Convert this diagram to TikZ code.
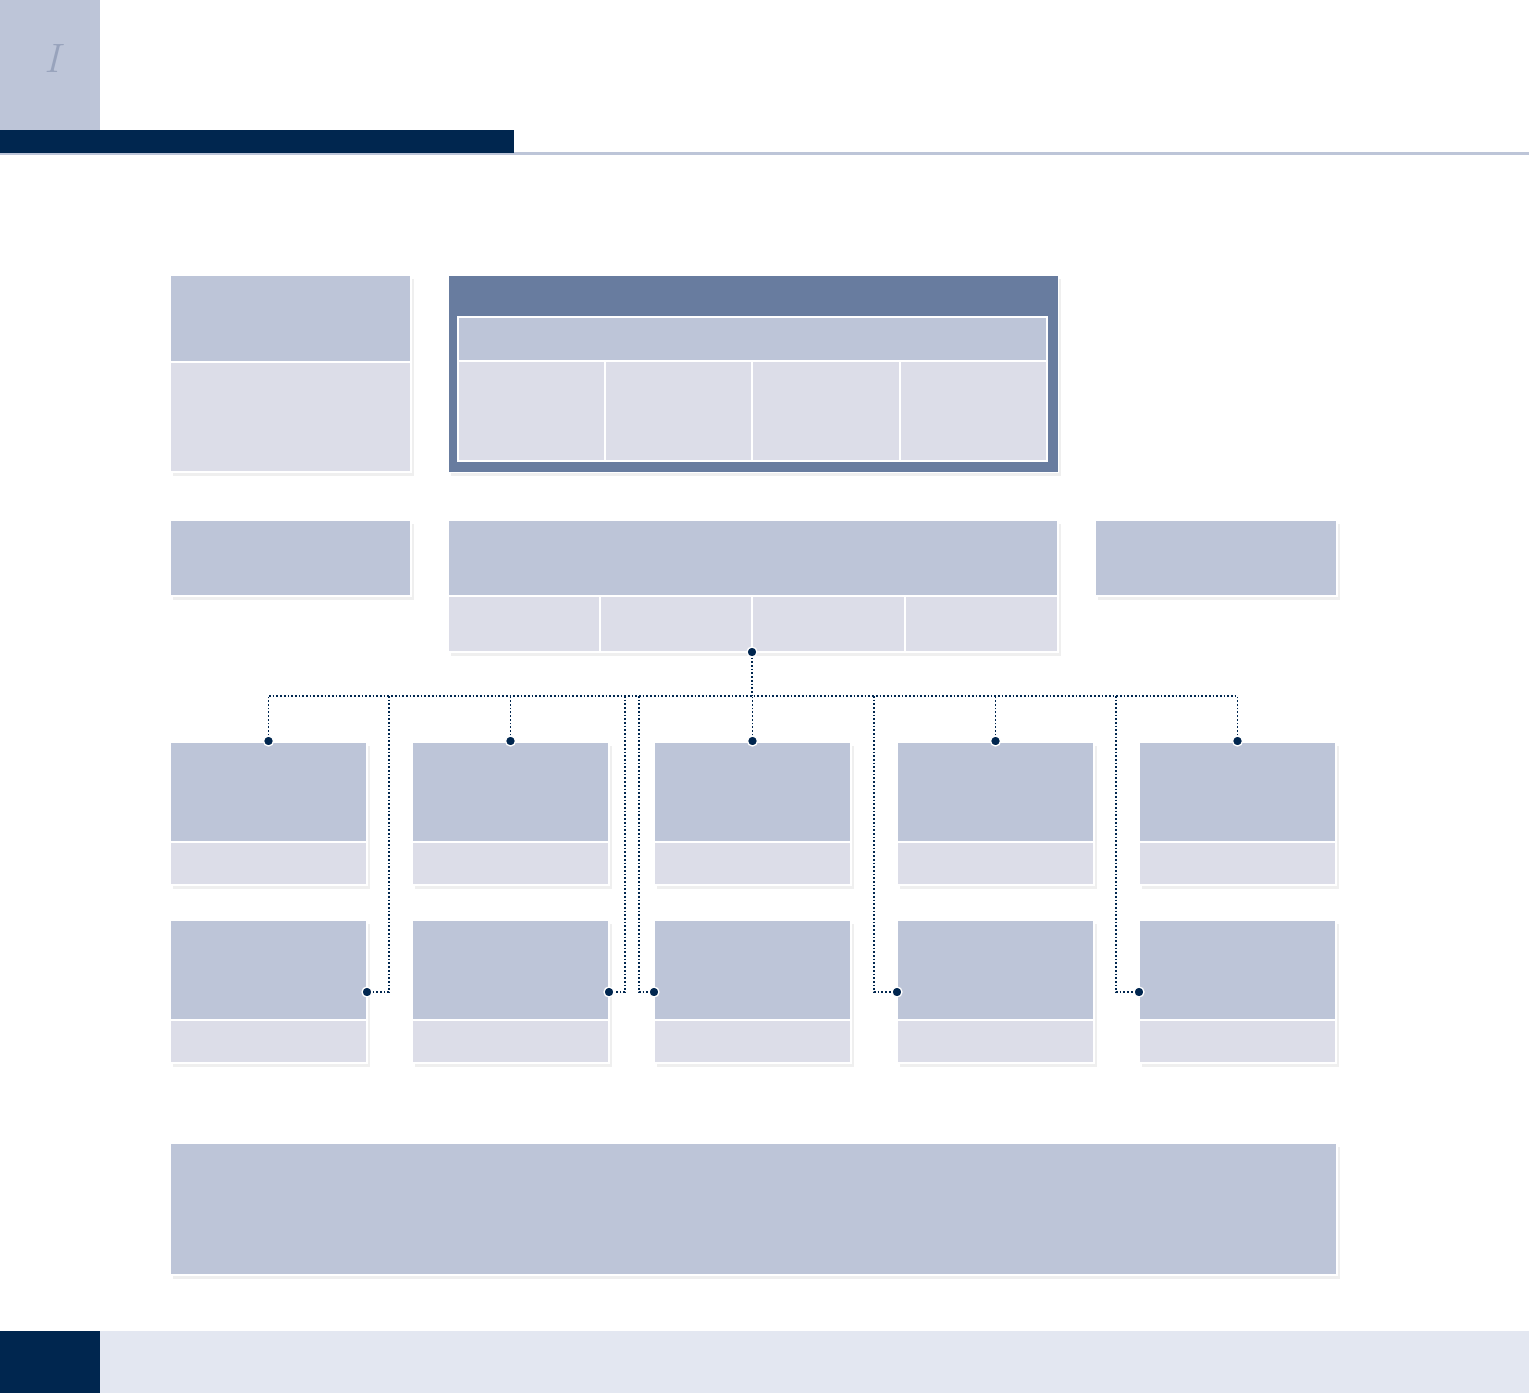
\documentclass[tikz,border=0pt]{standalone}
\usepackage{tikz}
\usetikzlibrary{shadows}
\definecolor{navy}{HTML}{00264F}
\definecolor{hdrgrey}{HTML}{BDC5D8}
\definecolor{cellgrey}{HTML}{DCDDE8}
\definecolor{deepgrey}{HTML}{687C9F}
\definecolor{bandgrey}{HTML}{E3E7F1}
\definecolor{numgrey}{HTML}{98A3BC}

\tikzset{
  box/.style={draw=white, line width=1.5pt, inner sep=0pt, outer sep=0pt, anchor=north west},
  hdr/.style={box, fill=hdrgrey},
  cell/.style={box, fill=cellgrey},
  shade/.style={drop shadow={shadow xshift=3pt, shadow yshift=-4pt, opacity=0.13}},
  bus/.style={draw=navy, dotted, line width=1.7pt},
  dot/.style={circle, fill=navy, draw=white, line width=1.3pt, inner sep=0pt, minimum size=10pt}
}

\begin{document}
\begin{tikzpicture}[x=1pt, y=-1pt]
    \useasboundingbox (0,0) rectangle (1529,1393);
%% page header and footer
    \fill[hdrgrey] (0,0) rectangle (100,130);
    \node[text=numgrey, font=\fontsize{41}{41}\selectfont\itshape] (num) at (52,58) {I};
    \fill[hdrgrey] (0,152) rectangle (1529,155);
    \fill[navy] (0,130) rectangle (514,153);
    \fill[navy] (0,1331) rectangle (100,1393);
    \fill[bandgrey] (100,1331) rectangle (1529,1393);

%% first row
    \node[cell, shade, minimum width=241pt, minimum height=197pt] (leftbox) at (170,275) {};
    \node[hdr, minimum width=241pt, minimum height=87pt] (lefthead) at (170,275) {};
    \node[box, fill=deepgrey, shade, line width=1pt, minimum width=610pt, minimum height=197pt] (mainbox) at (448,275) {};
    \node[hdr, minimum width=589pt, minimum height=44pt] (mainhead) at (458,317) {};
    \node[cell, minimum width=147pt, minimum height=100pt] (maina) at (458,361) {};
    \node[cell, minimum width=147pt, minimum height=100pt] (mainb) at (605,361) {};
    \node[cell, minimum width=148pt, minimum height=100pt] (mainc) at (752,361) {};
    \node[cell, minimum width=147pt, minimum height=100pt] (maind) at (900,361) {};

%% second row
    \node[hdr, shade, minimum width=241pt, minimum height=76pt] (leftsmall) at (170,520) {};
    \node[cell, shade, minimum width=610pt, minimum height=132pt] (midbox) at (448,520) {};
    \node[hdr, minimum width=610pt, minimum height=76pt] (midhead) at (448,520) {};
    \node[cell, minimum width=152pt, minimum height=56pt] (mida) at (448,596) {};
    \node[cell, minimum width=152pt, minimum height=56pt] (midb) at (600,596) {};
    \node[cell, minimum width=153pt, minimum height=56pt] (midc) at (752,596) {};
    \node[cell, minimum width=153pt, minimum height=56pt] (midd) at (905,596) {};
    \node[hdr, shade, minimum width=242pt, minimum height=76pt] (rightsmall) at (1095,520) {};

%% bus
    \node[dot] (topdot) at (752,652) {};
    \coordinate (busl) at (269,696);
    \coordinate (busr) at (1237,696);
    \draw[bus] (busl) -- (busr);
    \draw[bus] (topdot) -- (topdot |- busl);

%% the five columns
    \foreach \i/\x/\sx/\rx in {1/170/367/389, 2/412/609/625, 3/654/654/639, 4/897/897/874, 5/1139/1139/1116} {
      \node[cell, shade, minimum width=197pt, minimum height=143pt] (upper\i) at (\x,742) {};
      \node[hdr, minimum width=197pt, minimum height=100pt] (upperhead\i) at (\x,742) {};
      \node[cell, shade, minimum width=197pt, minimum height=143pt] (lower\i) at (\x,920) {};
      \node[hdr, minimum width=197pt, minimum height=100pt] (lowerhead\i) at (\x,920) {};
      \node[dot] (updot\i) at (\x+98.5,741) {};
      \node[dot] (sidedot\i) at (\sx,992) {};
      \coordinate (rise\i) at (\rx,696);
      \draw[bus] (updot\i) -- (updot\i |- busl);
      \draw[bus] (rise\i) |- (sidedot\i);
    }

%% note box
    \node[hdr, shade, minimum width=1167pt, minimum height=132pt] (notebox) at (170,1143) {};
\end{tikzpicture}
\end{document}
